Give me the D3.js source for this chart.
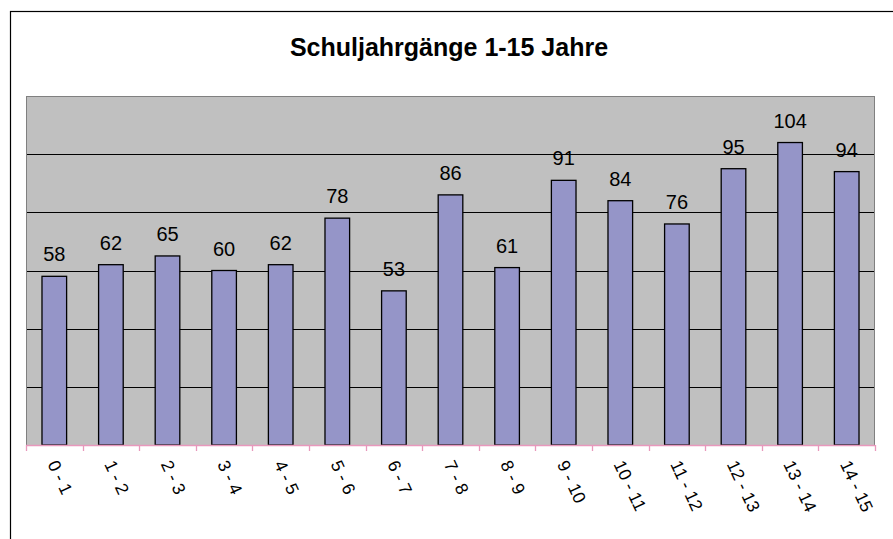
<!DOCTYPE html>
<html>
<head>
<meta charset="utf-8">
<script src="https://cdn.jsdelivr.net/npm/d3@7"></script>
<style>
  html, body { margin: 0; padding: 0; background: #fff; }
  svg { display: block; }
  text { font-family: "Liberation Sans", Arial, sans-serif; }
</style>
</head>
<body>
<svg id="chart" width="893" height="539"></svg>
<script>
const titleText = "Schuljahrgänge 1-15 Jahre";
const categories = ["0 - 1","1 - 2","2 - 3","3 - 4","4 - 5","5 - 6","6 - 7","7 - 8","8 - 9","9 - 10","10 - 11","11 - 12","12 - 13","13 - 14","14 - 15"];
const values = [58, 62, 65, 60, 62, 78, 53, 86, 61, 91, 84, 76, 95, 104, 94];
const yTicks = [0, 20, 40, 60, 80, 100, 120];

const svg = d3.select("#chart");
const plot = { left: 26, right: 875, top: 96, bottom: 445 };

// outer chart border (extends beyond the visible frame)
svg.append("rect")
  .attr("x", 10.5).attr("y", 11.5)
  .attr("width", 1200).attr("height", 1200)
  .attr("fill", "#fff").attr("stroke", "#000").attr("stroke-width", 1.2);

// title
svg.append("text")
  .attr("x", 449).attr("y", 56)
  .attr("text-anchor", "middle")
  .attr("font-size", 25).attr("font-weight", "bold")
  .attr("fill", "#000")
  .text(titleText);

const x = d3.scaleBand()
  .domain(categories)
  .range([plot.left, plot.right])
  .paddingInner(0.565)
  .paddingOuter(0.565 / 2);

const y = d3.scaleLinear()
  .domain([yTicks[0], yTicks[yTicks.length - 1]])
  .range([plot.bottom, plot.top]);

// plot background
svg.append("rect")
  .attr("x", plot.left).attr("y", plot.top)
  .attr("width", plot.right - plot.left).attr("height", plot.bottom - plot.top)
  .attr("fill", "#c0c0c0");

// gridlines
svg.append("g").selectAll("line")
  .data(yTicks.slice(1, -1))
  .join("line")
  .attr("x1", plot.left).attr("x2", plot.right)
  .attr("y1", d => Math.round(y(d)) + 0.5).attr("y2", d => Math.round(y(d)) + 0.5)
  .attr("stroke", "#000").attr("stroke-width", 1);

// plot border
svg.append("rect")
  .attr("x", plot.left + 0.5).attr("y", plot.top + 0.5)
  .attr("width", plot.right - plot.left - 1).attr("height", plot.bottom - plot.top)
  .attr("fill", "none").attr("stroke", "#808080").attr("stroke-width", 1);

// bars
svg.append("g").selectAll("rect")
  .data(values)
  .join("rect")
  .attr("x", (d, i) => x(categories[i]))
  .attr("y", d => y(d))
  .attr("width", x.bandwidth())
  .attr("height", d => y(0) - y(d))
  .attr("fill", "#9595c8")
  .attr("stroke", "#000").attr("stroke-width", 1.3);

// value labels
svg.append("g").selectAll("text")
  .data(values)
  .join("text")
  .attr("x", (d, i) => x(categories[i]) + x.bandwidth() / 2)
  .attr("y", d => y(d) - 15)
  .attr("text-anchor", "middle")
  .attr("font-size", 20)
  .attr("fill", "#000")
  .text(d => d);

// x axis: pink line + boundary ticks
const axisG = svg.append("g");
axisG.append("line")
  .attr("x1", plot.left).attr("x2", plot.right)
  .attr("y1", plot.bottom + 0.5).attr("y2", plot.bottom + 0.5)
  .attr("stroke", "#e898bc").attr("stroke-width", 1.3);
const boundaries = categories.map(c => x(c) + x.bandwidth() / 2 - x.step() / 2)
  .concat([x(categories[categories.length - 1]) + x.bandwidth() / 2 + x.step() / 2]);
axisG.selectAll("line.tk")
  .data(boundaries)
  .join("line").attr("class", "tk")
  .attr("x1", d => Math.round(d) + 0.5).attr("x2", d => Math.round(d) + 0.5)
  .attr("y1", plot.bottom).attr("y2", plot.bottom + 6)
  .attr("stroke", "#e898bc").attr("stroke-width", 1.3);

// category labels via d3 axis
const xAxis = d3.axisBottom(x).tickSize(0).tickPadding(0);
const labG = svg.append("g")
  .attr("transform", `translate(0,${plot.bottom})`)
  .call(xAxis);
labG.select(".domain").remove();
labG.selectAll("text")
  .attr("font-family", "Liberation Sans, Arial, sans-serif")
  .attr("font-size", 17.5)
  .attr("fill", "#000")
  .attr("text-anchor", "start")
  .attr("dy", null)
  .attr("y", null)
  .attr("transform", "translate(-7,19) rotate(65)");
</script>
</body>
</html>
